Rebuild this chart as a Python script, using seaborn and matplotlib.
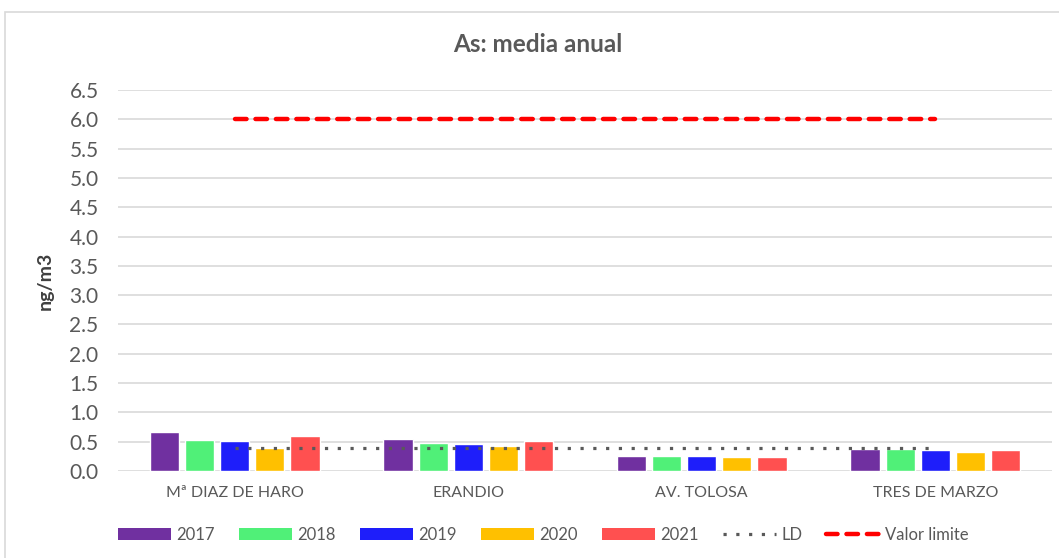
import numpy as np
import pandas as pd
import matplotlib
matplotlib.use("Agg")
import matplotlib.pyplot as plt
from matplotlib.patches import Patch, Rectangle
from matplotlib.lines import Line2D
import seaborn as sns

# Annual mean arsenic concentration per monitoring site (ng/m3)
sites = ["Mª DIAZ DE HARO", "ERANDIO", "AV. TOLOSA", "TRES DE MARZO"]
years = ["2017", "2018", "2019", "2020", "2021"]
as_2017 = [0.67, 0.55, 0.26, 0.37]
as_2018 = [0.53, 0.48, 0.26, 0.37]
as_2019 = [0.52, 0.46, 0.26, 0.35]
as_2020 = [0.40, 0.43, 0.24, 0.32]
as_2021 = [0.59, 0.52, 0.24, 0.35]
ld_values = [0.40, 0.40, 0.40, 0.40]        # detection limit (LD)
limit_values = [6.0, 6.0, 6.0, 6.0]         # annual limit value
y_ticks = [0.0, 0.5, 1.0, 1.5, 2.0, 2.5, 3.0, 3.5, 4.0, 4.5, 5.0, 5.5, 6.0, 6.5]

year_colors = ["#7030A0", "#50F078", "#1E1EFA", "#FFC000", "#FF5050"]
ld_color = "#595959"
limit_color = "#FF0000"
text_color = "#595959"

ld_style = (0, (1, 3))
limit_style = (0, (2.6, 2.0))

series = [as_2017, as_2018, as_2019, as_2020, as_2021]
df = pd.DataFrame({
    "site": np.tile(sites, len(years)),
    "year": np.repeat(years, len(sites)),
    "value": np.concatenate(series),
})

sns.set_theme(style="white")
plt.rcParams["font.family"] = ["Lato", "DejaVu Sans"]

fig = plt.figure(figsize=(10.59, 5.58), dpi=100)
ax = fig.add_axes([118 / 1059, 1 - 471 / 558, (1052 - 118) / 1059, (471 - 90) / 558])

# Chart-area frame
fig.patches.append(Rectangle((5 / 1059, -0.05), 1.2, 1 - 12 / 558 + 0.05,
                             transform=fig.transFigure, fill=False,
                             edgecolor="#D9D9D9", linewidth=1.2, zorder=0))

sns.barplot(data=df, x="site", y="value", hue="year", order=sites,
            hue_order=years, palette=year_colors, saturation=1,
            width=0.75, gap=0.16, legend=False, ax=ax, zorder=2)

pos = np.arange(len(sites))
sns.lineplot(x=pos, y=ld_values, ax=ax, color=ld_color, linewidth=2.3,
             linestyle=ld_style, zorder=4)
sns.lineplot(x=pos, y=limit_values, ax=ax, color=limit_color, linewidth=3.2,
             linestyle=limit_style, dash_capstyle="round", zorder=4)

ax.set_xlim(-0.5, len(sites) - 0.5)
ax.set_ylim(0, 6.5)
ax.set_yticks(y_ticks)
ax.set_yticklabels([f"{t:.1f}" for t in y_ticks])
ax.yaxis.grid(True, color="#D9D9D9", linewidth=1.2)
ax.set_axisbelow(True)
sns.despine(ax=ax, left=True, bottom=True)
ax.tick_params(axis="y", length=0, pad=14, labelsize=15, labelcolor=text_color)
ax.tick_params(axis="x", length=0, pad=11, labelsize=11.5, labelcolor=text_color)
ax.set_xlabel("")
ax.set_ylabel("ng/m3", fontsize=14, fontweight="bold", color="#404040", labelpad=11)

fig.text(538 / 1059, 1 - 45 / 558, "As: media anual", ha="center", va="center",
         fontsize=17.5, fontweight="bold", color=text_color)

handles = [Patch(facecolor=c, edgecolor="none") for c in year_colors]
handles += [Line2D([], [], color=ld_color, linewidth=2.3, linestyle=ld_style),
            Line2D([], [], color=limit_color, linewidth=3.2, linestyle=limit_style,
                   dash_capstyle="round")]
labels = years + ["LD", "Valor limite"]
leg = fig.legend(handles, labels, loc="center", ncol=7,
                 bbox_to_anchor=(543 / 1059, 1 - 535 / 558), frameon=False,
                 fontsize=12, handlelength=3.2, handleheight=0.75,
                 handletextpad=0.3, columnspacing=1.45)
for t in leg.get_texts():
    t.set_color(text_color)

fig.savefig("out.png", dpi=100, facecolor="white")
